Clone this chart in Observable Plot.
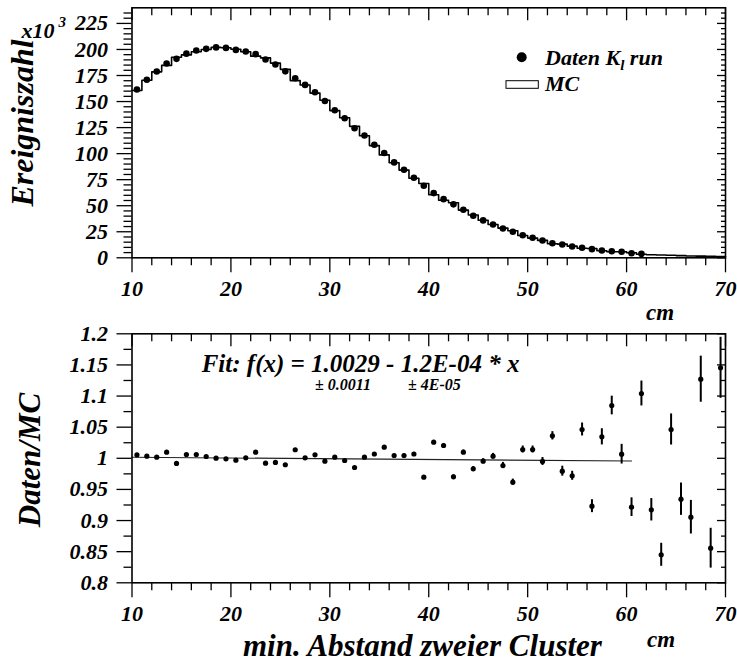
<!DOCTYPE html>
<html><head><meta charset="utf-8">
<script src="https://cdn.jsdelivr.net/npm/d3@7"></script>
<script src="https://cdn.jsdelivr.net/npm/@observablehq/plot@0.6"></script>
</head><body style="margin:0;background:#fff">
<div id="wrap" style="position:relative;width:737px;height:664px;background:#fff"></div>
<script>
// ---------- data ----------
const binCenters = d3.range(10.5, 70, 1);              // 60 bins of 1 cm
const dataCenters = binCenters.slice(0, 52);           // data points drawn in top panel
const dataCounts = [161.5,171,178.8,186.5,191,196,199,200.6,202,201.5,199.6,198,195.5,190.4,185.6,179,172.4,166,159,150.6,141.6,134,124.3,117.4,108.5,100.6,91.6,84.6,76.9,69.2,62.1,56.3,51.3,46.2,40.4,35.9,32,28.2,25,21.7,19.2,16.6,14,12.8,10.9,9.6,8.3,7,6.3,5.8,4.4,3.8];
const mcCounts = [160.6,170.4,178.5,184.7,192.6,194.8,197.8,200.0,202.0,201.7,200.2,197.8,193.6,191.9,186.9,180.9,170.1,165.9,158.1,151.3,141.3,134.5,126.2,117.2,107.7,98.8,91.2,84.2,76.4,71.4,60.5,55.2,52.9,45.8,41.1,36.1,31.9,28.5,26.0,21.4,18.9,16.7,13.5,13.1,11.2,9.2,9.0,6.8,5.8,5.8,4.8,3.4,3.0,2.7,2.4,2.1,1.8,1.6,1.4,1.2];
const ratio = [1.0056,1.0034,1.0018,1.0098,0.9917,1.0061,1.0061,1.0029,1.0002,0.9992,0.9970,1.0008,1.0098,0.9922,0.9933,0.9896,1.0137,1.0008,1.0056,0.9954,1.0018,0.9965,0.9852,1.0018,1.0069,1.0178,1.0045,1.0045,1.0069,0.9697,1.0259,1.0206,0.9702,1.0098,0.9831,0.9954,1.0034,0.9884,0.9616,1.0141,1.0141,0.9949,1.0361,0.9793,0.9719,1.0463,0.9231,1.0345,1.0848,1.0066,0.9215,1.1041,0.9173,0.8450,1.0463,0.9343,0.9054,1.1271,0.8556,1.1454];
const ratioErr = [0.0012,0.0012,0.0012,0.0012,0.0012,0.0012,0.0012,0.0012,0.0012,0.0012,0.0012,0.0012,0.0013,0.0013,0.0013,0.0014,0.0014,0.0015,0.0015,0.0016,0.0017,0.0017,0.0018,0.0019,0.002,0.0021,0.0022,0.0023,0.0025,0.0026,0.0028,0.003,0.0032,0.0034,0.0037,0.004,0.0045,0.005,0.005,0.0056,0.0056,0.0064,0.0067,0.008,0.0072,0.0104,0.0104,0.013,0.015,0.0158,0.015,0.020,0.018,0.0185,0.025,0.026,0.027,0.037,0.032,0.049];
const fitA = 1.0029, fitB = -1.2e-4, fitRange = [10, 60.5];

const xMajor = [10, 20, 30, 40, 50, 60, 70];
const xMinor = [12, 14, 16, 18, 22, 24, 26, 28, 32, 34, 36, 38, 42, 44, 46, 48, 52, 54, 56, 58, 62, 64, 66, 68];
const yMajorTop = [0, 25, 50, 75, 100, 125, 150, 175, 200, 225];
const yMinorTop = [5,10,15,20,30,35,40,45,55,60,65,70,80,85,90,95,105,110,115,120,130,135,140,145,155,160,165,170,180,185,190,195,205,210,215,220,230,235];
const yMajorBot = [0.8, 0.85, 0.9, 0.95, 1, 1.05, 1.1, 1.15, 1.2];
const yMinorBot = [0.825, 0.875, 0.925, 0.975, 1.025, 1.075, 1.125, 1.175];

// ---------- tables ----------
const histLine = binCenters.map((c, i) => ({x: c - 0.5, y: mcCounts[i]}));
histLine.push({x: 70, y: mcCounts[mcCounts.length - 1]});
const dataPts = dataCenters.map((c, i) => ({x: c, y: dataCounts[i]}));
const ratioPts = binCenters.map((c, i) => ({x: c, y: ratio[i], lo: ratio[i] - ratioErr[i], hi: ratio[i] + ratioErr[i]}));
const fitPts = fitRange.map(x => ({x, y: fitA + fitB * x}));

const FONT = "Liberation Serif";
const style = {fontFamily: FONT, fontWeight: "bold", fontStyle: "italic", fontSize: "22px", color: "black", overflow: "visible"};
const W = 737, ML = 131.5, MR = 12;
const FW = W - ML - MR;

function frameMarks(xMaj, xMin, yMaj, yMin, FH) {
  return [
    Plot.axisY(yMin, {tickSize: 8, tickFormat: () => "", label: null, strokeWidth: 1.3}),
    Plot.axisY(yMaj, {tickSize: 15, tickPadding: 9, fontSize: 22, tickFormat: d => String(d), label: null, strokeWidth: 1.3}),
    Plot.axisX(xMin, {anchor: "bottom", tickSize: 8, tickFormat: () => "", label: null, strokeWidth: 1.3}),
    Plot.axisX(xMaj, {anchor: "bottom", tickSize: 15, tickPadding: 8, fontSize: 22, tickFormat: d => String(d), label: null, strokeWidth: 1.3}),
    Plot.tickX(xMin, {x: d => d, insetBottom: FH - 8, strokeWidth: 1.3}),
    Plot.tickX(xMaj, {x: d => d, insetBottom: FH - 13, strokeWidth: 1.3}),
    Plot.tickY(yMin, {y: d => d, insetLeft: FW - 4, strokeWidth: 1.3}),
    Plot.tickY(yMaj, {y: d => d, insetLeft: FW - 8, strokeWidth: 1.3}),
    Plot.frame({stroke: "black", strokeWidth: 1.6})
  ];
}

// ---------- top panel ----------
const topH = 325, topMT = 7.3, topMB = 67.7;
const topPlot = Plot.plot({
  width: W, height: topH,
  marginLeft: ML, marginRight: MR, marginTop: topMT, marginBottom: topMB,
  style,
  x: {domain: [10, 70], label: null},
  y: {domain: [0, 240], label: null},
  marks: [
    Plot.line(histLine, {x: "x", y: "y", curve: "step-after", stroke: "black", strokeWidth: 1.6}),
    Plot.dot(dataPts, {x: "x", y: "y", r: 3.3, fill: "black", stroke: "none"}),
    ...frameMarks(xMajor, xMinor, yMajorTop, yMinorTop, topH - topMT - topMB)
  ]
});

// ---------- bottom panel ----------
const botH = 339, botMT = 8.3, botMB = 81.7;
const botPlot = Plot.plot({
  width: W, height: botH,
  marginLeft: ML, marginRight: MR, marginTop: botMT, marginBottom: botMB,
  style,
  x: {domain: [10, 70], label: null},
  y: {domain: [0.8, 1.2], label: null},
  marks: [
    Plot.line(fitPts, {x: "x", y: "y", stroke: "#222", strokeWidth: 1.1}),
    Plot.ruleX(ratioPts, {x: "x", y1: "lo", y2: "hi", stroke: "black", strokeWidth: 2}),
    Plot.dot(ratioPts, {x: "x", y: "y", r: 2.6, fill: "black", stroke: "none"}),
    ...frameMarks(xMajor, xMinor, yMajorBot, yMinorBot, botH - botMT - botMB)
  ]
});

const wrap = document.getElementById("wrap");
for (const [svg, t] of [[topPlot, 0], [botPlot, 325]]) {
  svg.style.position = "absolute";
  svg.style.left = "0px";
  svg.style.top = t + "px";
  wrap.appendChild(svg);
}

// ---------- annotation overlay ----------
const ov = d3.select(wrap).append("svg")
  .attr("width", W).attr("height", 664)
  .style("position", "absolute").style("top", "0px").style("left", "0px");

function txt(x, y, s, size) {
  return ov.append("text").attr("x", x).attr("y", y)
    .attr("font-family", FONT).attr("font-weight", "bold").attr("font-style", "italic")
    .attr("font-size", size).attr("fill", "black").text(s);
}
txt(21.5, 38, "x10", 22);
txt(58.5, 27, "3", 15);

// legend
ov.append("circle").attr("cx", 521.7).attr("cy", 57.3).attr("r", 5).attr("fill", "black");
const lt = txt(545, 65, "", 22);
lt.append("tspan").text("Daten K");
lt.append("tspan").attr("font-size", 15).attr("dy", 5).text("l");
lt.append("tspan").attr("dy", -5).text(" run");
ov.append("rect").attr("x", 506).attr("y", 80.7).attr("width", 32.3).attr("height", 7.6)
  .attr("fill", "none").attr("stroke", "black").attr("stroke-width", 1);
txt(545, 90.7, "MC", 22);

// fit annotation
txt(201.7, 371.7, "Fit: f(x) = 1.0029 - 1.2E-04 * x", 25);
txt(315, 390, "\u00B1 0.0011", 16);
txt(408, 390, "\u00B1 4E-05", 16);

// units and axis titles
txt(646, 320, "cm", 23);
txt(647, 647, "cm", 23);
txt(243, 656, "min. Abstand zweier Cluster", 31);
txt(0, 0, "Ereigniszahl", 32).attr("transform", "translate(33,123) rotate(-90)").attr("text-anchor", "middle");
txt(0, 0, "Daten/MC", 31).attr("transform", "translate(40,460) rotate(-90)").attr("text-anchor", "middle");
</script></body></html>
